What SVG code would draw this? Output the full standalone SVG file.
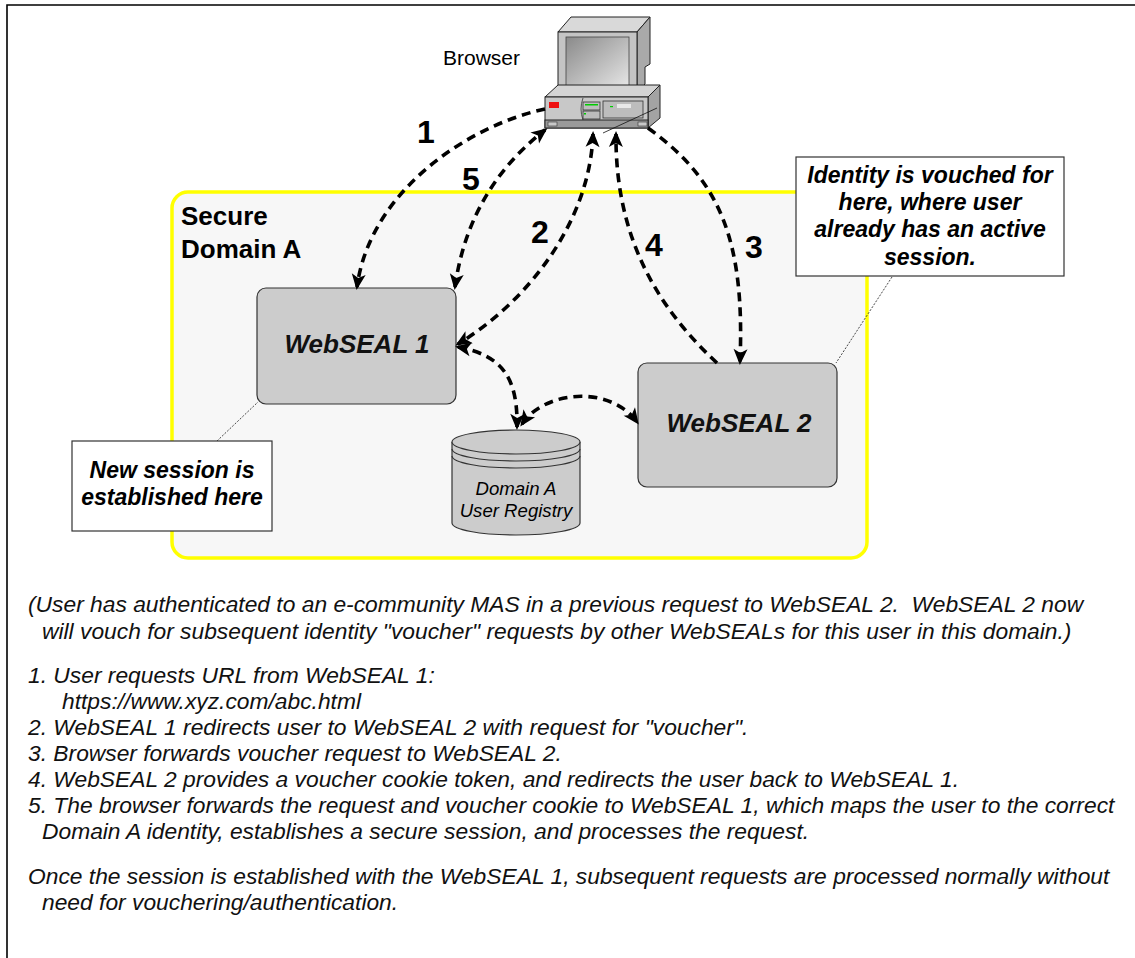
<svg xmlns="http://www.w3.org/2000/svg" width="1135" height="958" viewBox="0 0 1135 958">
  <style>
    .frame { fill: none; stroke: #000; stroke-width: 1.6; }
    .domain { fill: #f7f7f7; stroke: #ffff00; stroke-width: 3.5; }
    .server { fill: #cccccc; stroke: #333; stroke-width: 1.2; }
    .note { fill: #fff; stroke: #333; stroke-width: 1.2; }
    .lead { fill: none; stroke: #333; stroke-width: 0.9; stroke-dasharray: 2 1.5; }
    .flow { fill: none; stroke: #000; stroke-width: 3.6; stroke-dasharray: 9 6; }
    .t { font-family: "Liberation Sans", Arial, sans-serif; fill: #000; }
    .bold { font-weight: bold; }
    .num { font-weight: bold; font-size: 32px; }
    .srv { font-weight: bold; font-style: italic; font-size: 26px; fill: #111; }
    .callout { font-weight: bold; font-style: italic; font-size: 23px; }
    .body { font-style: italic; font-size: 22.8px; white-space: pre; fill: #111; }
    .pc { stroke: #222; stroke-width: 1; }
  </style>
  <defs>
    <marker id="ah" markerUnits="userSpaceOnUse" markerWidth="20" markerHeight="16" viewBox="-14 -8 20 16" refX="0" refY="0" orient="auto-start-reverse">
      <path d="M3,0 L-13,-7 L-9,0 L-13,7 Z" fill="#000"/>
    </marker>
    <linearGradient id="screen" x1="0" y1="0" x2="1" y2="1">
      <stop offset="0" stop-color="#8a8a8a"/>
      <stop offset="1" stop-color="#e6e6e6"/>
    </linearGradient>
  </defs>

  <!-- page frame -->
  <path class="frame" d="M7,958 V5 H1135"/>

  <!-- secure domain container -->
  <g id="secure-domain">
    <rect class="domain" x="172" y="192" width="695" height="366" rx="16"/>
    <text class="t bold" x="181" y="225" font-size="26">Secure</text>
    <text class="t bold" x="181" y="258" font-size="26">Domain A</text>
  </g>

  <!-- browser workstation -->
  <g id="browser">
    <text class="t" x="443" y="65" font-size="21">Browser</text>
    <!-- monitor -->
    <polygon class="pc" points="558,32 571,17 650,17 637,32" fill="#d9d9d9"/>
    <polygon class="pc" points="637,32 650,17 650,64 645,67 645,84 637,92" fill="#a9a9a9"/>
    <rect class="pc" x="558" y="32" width="79" height="60" fill="#c4c4c4"/>
    <rect x="566" y="37" width="63" height="50" fill="url(#screen)" stroke="#444" stroke-width="0.8"/>
    <rect x="625" y="85" width="4" height="2" fill="#00dd00"/>
    <rect class="pc" x="570" y="92" width="32" height="5" fill="#b0b0b0"/>
    <!-- system unit -->
    <polygon class="pc" points="545,97 558,85 660,85 648,97" fill="#d4d4d4"/>
    <polygon class="pc" points="648,97 660,85 660,118 648,128" fill="#a3a3a3"/>
    <rect class="pc" x="545" y="97" width="103" height="31" fill="#c8c8c8"/>
    <rect x="549" y="102" width="10" height="6" fill="#ee1111"/>
    <path d="M583,98 Q579,109 583,120" fill="none" stroke="#555" stroke-width="1"/>
    <rect x="583" y="102" width="17" height="8" fill="#bdbdbd" stroke="#333" stroke-width="0.8"/>
    <rect x="585" y="104" width="13" height="1.5" fill="#00cc00"/>
    <rect x="583" y="111" width="17" height="8" fill="#bdbdbd" stroke="#333" stroke-width="0.8"/>
    <rect x="584" y="113" width="2" height="1.5" fill="#00cc00"/>
    <rect x="603" y="101" width="40" height="17" fill="#bdbdbd" stroke="#333" stroke-width="0.8"/>
    <rect x="617" y="104" width="14" height="4" fill="#e8e8e8"/>
    <rect x="610" y="106" width="3" height="1.2" fill="#00cc00"/>
    <rect x="545" y="120" width="103" height="8" fill="#9a9a9a" stroke="#222" stroke-width="1"/>
    <rect x="548" y="122" width="9" height="4" fill="#c8c8c8" stroke="#333" stroke-width="0.6"/>
    <rect x="638" y="122" width="9" height="4" fill="#c8c8c8" stroke="#333" stroke-width="0.6"/>
    <line x1="603" y1="133" x2="657" y2="108" stroke="#111" stroke-width="0.8"/>
  </g>

  <!-- WebSEAL servers -->
  <g id="webseal-1">
    <rect class="server" x="257" y="288" width="199" height="116" rx="9"/>
    <text class="t srv" x="357" y="353" text-anchor="middle">WebSEAL 1</text>
  </g>
  <g id="webseal-2">
    <rect class="server" x="638" y="363" width="199" height="124" rx="9"/>
    <text class="t srv" x="739" y="432" text-anchor="middle">WebSEAL 2</text>
  </g>

  <!-- user registry -->
  <g id="user-registry">
    <path class="server" d="M452,442 V523 A64,12 0 0 0 580,523 V442"/>
    <ellipse class="server" cx="516" cy="442" rx="64" ry="12"/>
    <path d="M452,449 A64,12 0 0 0 580,449" fill="none" stroke="#333" stroke-width="1.2"/>
    <path d="M452,456 A64,12 0 0 0 580,456" fill="none" stroke="#333" stroke-width="1.2"/>
    <text class="t" x="516" y="495" font-size="18.6" font-style="italic" text-anchor="middle">Domain A</text>
    <text class="t" x="516" y="517" font-size="18.6" font-style="italic" text-anchor="middle">User Registry</text>
  </g>

  <!-- flows -->
  <g id="connectors">
    <path class="flow" d="M545,109 C470,125 370,190 357,287" marker-end="url(#ah)"/>
    <path class="flow" d="M455,287 C465,215 500,165 545,130" marker-start="url(#ah)" marker-end="url(#ah)"/>
    <path class="flow" d="M593,134 C590,220 530,300 458,344" marker-start="url(#ah)" marker-end="url(#ah)"/>
    <path class="flow" d="M648,128 C720,180 745,240 740,362" marker-end="url(#ah)"/>
    <path class="flow" d="M717,363 C660,310 615,240 616,134" marker-end="url(#ah)"/>
    <path class="flow" d="M458,347 C500,355 518,375 517,427" marker-start="url(#ah)" marker-end="url(#ah)"/>
    <path class="flow" d="M522,424 C545,390 610,385 637,422" marker-start="url(#ah)" marker-end="url(#ah)"/>
    <line class="lead" x1="217" y1="441" x2="258" y2="402"/>
    <line class="lead" x1="892" y1="277" x2="836" y2="363"/>
  </g>

  <!-- step numbers -->
  <g id="step-labels">
    <text class="t num" x="417" y="143">1</text>
    <text class="t num" x="462" y="190">5</text>
    <text class="t num" x="531" y="243">2</text>
    <text class="t num" x="645" y="256">4</text>
    <text class="t num" x="745" y="258">3</text>
  </g>

  <!-- callouts -->
  <g id="note-new-session">
    <rect class="note" x="72" y="441" width="200" height="90"/>
    <text class="t callout" x="172" y="478" text-anchor="middle">New session is</text>
    <text class="t callout" x="172" y="505" text-anchor="middle">established here</text>
  </g>
  <g id="note-identity">
    <rect class="note" x="796" y="157" width="268" height="119"/>
    <text class="t callout" x="930" y="183" text-anchor="middle">Identity is vouched for</text>
    <text class="t callout" x="930" y="210" text-anchor="middle">here, where user</text>
    <text class="t callout" x="930" y="237" text-anchor="middle">already has an active</text>
    <text class="t callout" x="930" y="265" text-anchor="middle">session.</text>
  </g>

  <!-- description -->
  <g id="description">
    <text class="t body" x="28" y="612">(User has authenticated to an e-community MAS in a previous request to WebSEAL 2.  WebSEAL 2 now</text>
    <text class="t body" x="42" y="639">will vouch for subsequent identity "voucher" requests by other WebSEALs for this user in this domain.)</text>
    <text class="t body" x="28" y="683">1. User requests URL from WebSEAL 1:</text>
    <text class="t body" x="62" y="709">https://www.xyz.com/abc.html</text>
    <text class="t body" x="28" y="735">2. WebSEAL 1 redirects user to WebSEAL 2 with request for "voucher".</text>
    <text class="t body" x="28" y="761">3. Browser forwards voucher request to WebSEAL 2.</text>
    <text class="t body" x="28" y="787">4. WebSEAL 2 provides a voucher cookie token, and redirects the user back to WebSEAL 1.</text>
    <text class="t body" x="28" y="813">5. The browser forwards the request and voucher cookie to WebSEAL 1, which maps the user to the correct</text>
    <text class="t body" x="42" y="839">Domain A identity, establishes a secure session, and processes the request.</text>
    <text class="t body" x="28" y="884">Once the session is established with the WebSEAL 1, subsequent requests are processed normally without</text>
    <text class="t body" x="42" y="910">need for vouchering/authentication.</text>
  </g>
</svg>
